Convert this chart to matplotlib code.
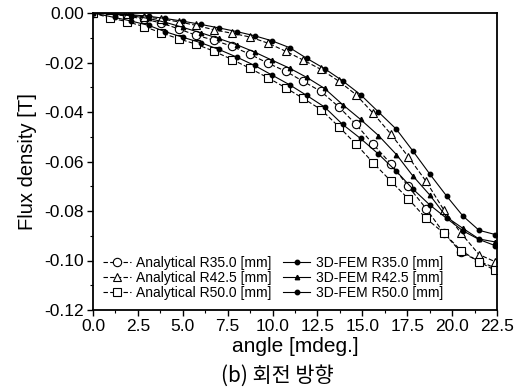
import matplotlib
matplotlib.use("Agg")
import matplotlib.pyplot as plt
from matplotlib.ticker import MultipleLocator

plt.rcParams['font.family'] = ['Liberation Sans', 'DejaVu Sans']

# angle positions [mdeg.]
x_analytic = [0, 0.95, 1.9, 2.85, 3.8, 4.8, 5.75, 6.75, 7.75, 8.75, 9.75, 10.75,
              11.7, 12.7, 13.7, 14.65, 15.6, 16.6, 17.55, 18.55, 19.55, 20.5, 21.5, 22.4]
x_fem = [0, 1.2, 2.1, 3.1, 4.0, 5.0, 6.0, 7.0, 8.0, 9.0, 9.95, 10.95,
         11.9, 12.9, 13.9, 14.9, 15.9, 16.9, 17.8, 18.75, 19.7, 20.6, 21.5, 22.4]

# Analytical series [T]
ana_r35 = [0, -0.0005, -0.0012, -0.0025, -0.004, -0.0065, -0.009, -0.011, -0.0135, -0.0167,
           -0.0203, -0.0236, -0.0276, -0.0317, -0.038, -0.045, -0.053, -0.061, -0.070, -0.079,
           -0.089, -0.0967, -0.1003, -0.103]
ana_r425 = [0, -0.0003, -0.0008, -0.0015, -0.0024, -0.0036, -0.005, -0.0068, -0.0082, -0.0097,
            -0.0122, -0.0155, -0.019, -0.0228, -0.0276, -0.033, -0.0405, -0.049, -0.058, -0.068,
            -0.0797, -0.089, -0.0976, -0.1005]
ana_r50 = [0, -0.002, -0.0035, -0.0055, -0.008, -0.0105, -0.0126, -0.0155, -0.0188, -0.0224,
           -0.0262, -0.0303, -0.0345, -0.039, -0.046, -0.053, -0.0605, -0.068, -0.075, -0.083,
           -0.089, -0.096, -0.1005, -0.104]

# 3D-FEM series [T]
fem_r35 = [0, -0.0003, -0.0007, -0.0013, -0.0022, -0.0033, -0.0046, -0.006, -0.0075, -0.0092,
           -0.0112, -0.014, -0.0183, -0.0225, -0.0274, -0.033, -0.040, -0.047, -0.0556, -0.065,
           -0.074, -0.082, -0.0878, -0.0895]
fem_r425 = [0, -0.0005, -0.0011, -0.0022, -0.0037, -0.0058, -0.008, -0.0103, -0.0128, -0.0158,
            -0.019, -0.0223, -0.026, -0.0305, -0.037, -0.043, -0.0495, -0.0572, -0.0657, -0.0735,
            -0.0825, -0.087, -0.0913, -0.0925]
fem_r50 = [0, -0.0018, -0.0032, -0.005, -0.0075, -0.0098, -0.012, -0.0147, -0.0178, -0.0212,
           -0.025, -0.029, -0.0333, -0.038, -0.045, -0.0507, -0.057, -0.064, -0.071, -0.0775,
           -0.083, -0.088, -0.0915, -0.094]

x_ticks = [0.0, 2.5, 5.0, 7.5, 10.0, 12.5, 15.0, 17.5, 20.0, 22.5]
y_ticks = [0.00, -0.02, -0.04, -0.06, -0.08, -0.10, -0.12]

fig = plt.figure(figsize=(5.23, 3.88), dpi=100)
ax = fig.add_axes([93/523, 1-310/388, (497-93)/523, (310-13)/388])

dash = (0, (4, 2))
ana_kw = dict(color='black', lw=0.8, linestyle=dash, markerfacecolor='white',
              markeredgecolor='black', markersize=6, markeredgewidth=0.8)
fem_kw = dict(color='black', lw=0.8, linestyle='-', markerfacecolor='black',
              markeredgecolor='black', markersize=3.2)

h1, = ax.plot(x_analytic, ana_r35, marker='o', label='Analytical R35.0 [mm]', **ana_kw)
h2, = ax.plot(x_analytic, ana_r425, marker='^', label='Analytical R42.5 [mm]', **ana_kw)
h3, = ax.plot(x_analytic, ana_r50, marker='s', label='Analytical R50.0 [mm]', **ana_kw)
h4, = ax.plot(x_fem, fem_r35, marker='o', label='3D-FEM R35.0 [mm]', **fem_kw)
h5, = ax.plot(x_fem, fem_r425, marker='^', label='3D-FEM R42.5 [mm]', **fem_kw)
h6, = ax.plot(x_fem, fem_r50, marker='o', label='3D-FEM R50.0 [mm]', **fem_kw)

ax.set_xlim(0, 22.5)
ax.set_ylim(-0.12, 0.0)
ax.set_xticks(x_ticks)
ax.set_xticklabels([f'{v:.1f}' for v in x_ticks])
ax.set_yticks(y_ticks)
ax.set_yticklabels([f'{v:.2f}' for v in y_ticks])
ax.xaxis.set_minor_locator(MultipleLocator(1.25))
ax.yaxis.set_minor_locator(MultipleLocator(0.01))
ax.tick_params(which='major', direction='out', length=4, width=1.0, labelsize=12.5,
               top=False, right=False, pad=2.5)
ax.tick_params(which='minor', direction='out', length=2.5, width=0.8, top=False, right=False)
for s in ax.spines.values():
    s.set_linewidth(1.3)

ax.set_xlabel('angle [mdeg.]', fontsize=15, labelpad=2)
ax.set_ylabel('Flux density [T]', fontsize=14.5, labelpad=5)

ax.legend(handles=[h1, h2, h3, h4, h5, h6], ncol=2, loc='lower left',
          bbox_to_anchor=(0.0, 0.0), frameon=False, fontsize=10,
          handlelength=2.0, handletextpad=0.4, columnspacing=0.8,
          labelspacing=0.08, borderaxespad=0.3)

fig.text(277/523, 1-376/388, '(b) 회전 방향', ha='center', va='center', fontsize=15,
         family=['Noto Sans CJK KR', 'DejaVu Sans'])

fig.savefig('out.png', dpi=100)
